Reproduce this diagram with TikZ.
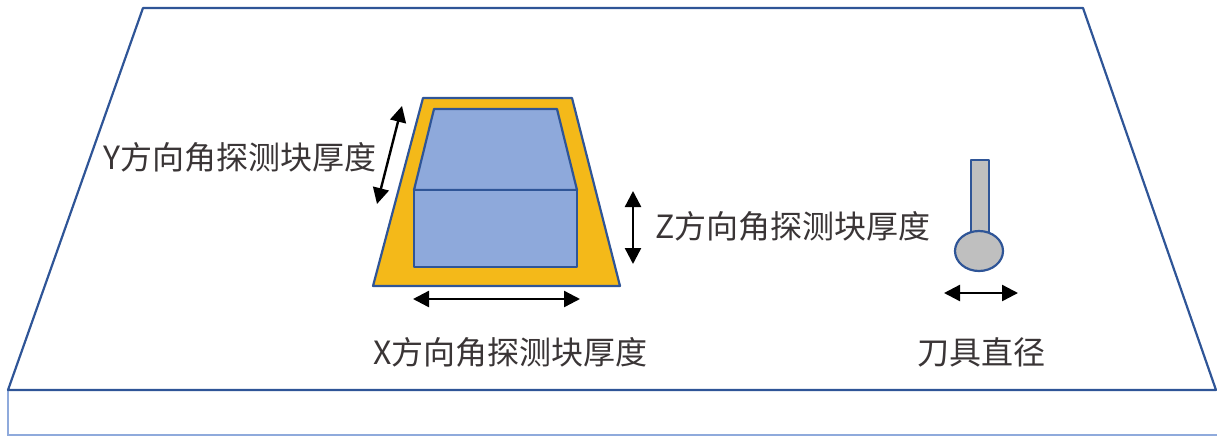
\documentclass[tikz,border=0pt]{standalone}
\usepackage{fontspec}
\newfontfamily\cjk{Noto Sans CJK SC}
\usetikzlibrary{arrows.meta}
\definecolor{edgeblue}{HTML}{2F5597}
\definecolor{sideblue}{HTML}{8FAADC}
\definecolor{blockfill}{HTML}{8EA9DB}
\definecolor{probeyellow}{HTML}{F4B919}
\definecolor{toolgray}{HTML}{BFBFBF}
\definecolor{labeltext}{HTML}{3A3536}
\tikzset{
  outline/.style={draw=edgeblue, line width=2.2pt, line join=round},
  dimarrow/.style={line width=2.4pt, black, {Triangle[length=16pt,width=16pt]}-{Triangle[length=16pt,width=16pt]}},
  dimlabel/.style={font=\cjk\fontsize{32}{38}\selectfont, text=labeltext, inner sep=0pt}
}
\begin{document}
\begin{tikzpicture}[x=1pt,y=-1pt]
  \useasboundingbox (0,0) rectangle (1217,437);
  % worktable: top face and front side
  \draw[draw=sideblue, line width=1.6pt] (8,390) -- (8,435) -- (1217,435);
  \draw[outline] (143,8) -- (1083,8) -- (1216,390) -- (8,390) -- cycle;
  % probing block seat
  \draw[outline, fill=probeyellow] (423,98) -- (572,98) -- (620,286) -- (373,286) -- cycle;
  \draw[outline, fill=blockfill] (434,109) -- (557,109) -- (577,190) -- (414,190) -- cycle;
  \draw[outline, fill=blockfill] (414,190) rectangle (577,267);
  % tool
  \draw[outline, fill=toolgray] (971,160) rectangle (989,234);
  \draw[outline, fill=toolgray] (979,251) ellipse [x radius=24, y radius=20];
  % dimension arrows
  \coordinate (ya) at (402,106);
  \coordinate (yb) at (377,204);
  \coordinate (za) at (633,191);
  \coordinate (zb) at (633,264);
  \coordinate (xa) at (413,299);
  \coordinate (xb) at (580,299);
  \coordinate (ta) at (944,293);
  \coordinate (tb) at (1018,293);
  \draw[dimarrow] (ya) -- (yb);
  \draw[dimarrow] (za) -- (zb);
  \draw[dimarrow] (xa) -- (xb);
  \draw[dimarrow] (ta) -- (tb);
  % labels
  \node[dimlabel, anchor=west] (ylabel) at (103,157) {Y方向角探测块厚度};
  \node[dimlabel, anchor=west] (zlabel) at (655,226) {Z方向角探测块厚度};
  \node[dimlabel, anchor=west] (xlabel) at (373,352) {X方向角探测块厚度};
  \node[dimlabel, anchor=west] (tlabel) at (917,352) {刀具直径};
\end{tikzpicture}
\end{document}
